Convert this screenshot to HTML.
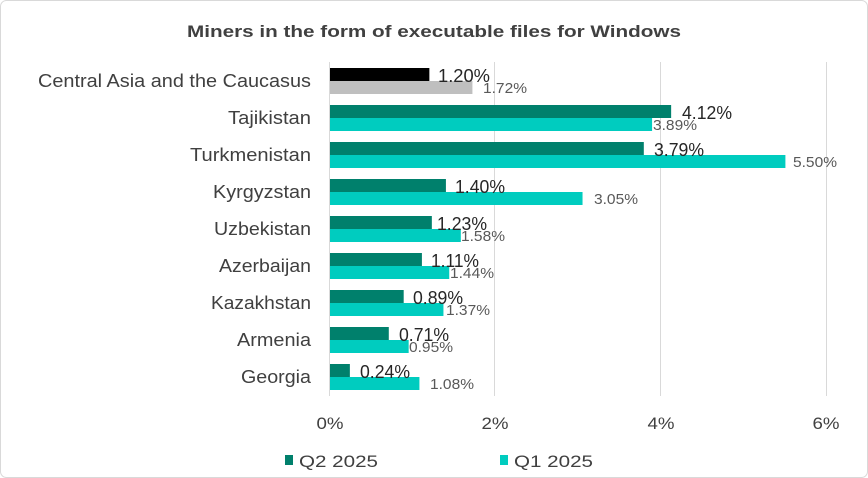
<!DOCTYPE html>
<html><head><meta charset="utf-8"><style>
html,body{margin:0;padding:0;background:#fff}
svg{display:block}
text{font-family:"Liberation Sans",sans-serif}
</style></head><body>
<svg width="868" height="478" viewBox="0 0 868 478" xmlns="http://www.w3.org/2000/svg">
<rect x="0.5" y="0.5" width="867" height="477" rx="6" fill="#fff" stroke="#d9d9d9"/>
<text x="434" y="37" text-anchor="middle" font-size="17" font-weight="bold" fill="#404040" textLength="494" lengthAdjust="spacingAndGlyphs">Miners in the form of executable files for Windows</text>
<g stroke="#d9d9d9" stroke-width="1">
<line x1="329.5" y1="62" x2="329.5" y2="396"/>
<line x1="494.5" y1="62" x2="494.5" y2="396"/>
<line x1="660.5" y1="62" x2="660.5" y2="396"/>
<line x1="826.5" y1="62" x2="826.5" y2="396"/>
</g>
<g font-size="17" fill="#404040" text-anchor="middle" lengthAdjust="spacingAndGlyphs">
<text x="330" y="429" textLength="27" lengthAdjust="spacingAndGlyphs">0%</text>
<text x="495" y="429" textLength="27" lengthAdjust="spacingAndGlyphs">2%</text>
<text x="661" y="429" textLength="27" lengthAdjust="spacingAndGlyphs">4%</text>
<text x="826" y="429" textLength="27" lengthAdjust="spacingAndGlyphs">6%</text>
</g>

<rect x="330" y="68" width="99.36" height="13" fill="#000"/>
<rect x="330" y="81" width="142.42" height="13" fill="#bfbfbf"/>
<rect x="330" y="105" width="341.14" height="13" fill="#00806c"/>
<rect x="330" y="118" width="322.09" height="13" fill="#00ccbf"/>
<rect x="330" y="142" width="313.81" height="13" fill="#00806c"/>
<rect x="330" y="155" width="455.4" height="13" fill="#00ccbf"/>
<rect x="330" y="179" width="115.92" height="13" fill="#00806c"/>
<rect x="330" y="192" width="252.54" height="13" fill="#00ccbf"/>
<rect x="330" y="216" width="101.84" height="13" fill="#00806c"/>
<rect x="330" y="229" width="130.82" height="13" fill="#00ccbf"/>
<rect x="330" y="253" width="91.91" height="13" fill="#00806c"/>
<rect x="330" y="266" width="119.23" height="13" fill="#00ccbf"/>
<rect x="330" y="290" width="73.69" height="13" fill="#00806c"/>
<rect x="330" y="303" width="113.44" height="13" fill="#00ccbf"/>
<rect x="330" y="327" width="58.79" height="13" fill="#00806c"/>
<rect x="330" y="340" width="78.66" height="13" fill="#00ccbf"/>
<rect x="330" y="364" width="19.87" height="13" fill="#00806c"/>
<rect x="330" y="377" width="89.42" height="13" fill="#00ccbf"/>

<g font-size="18" fill="#404040" text-anchor="end">
<text x="311" y="87" textLength="273" lengthAdjust="spacingAndGlyphs">Central Asia and the Caucasus</text>
<text x="311" y="124" textLength="83" lengthAdjust="spacingAndGlyphs">Tajikistan</text>
<text x="311" y="161" textLength="121" lengthAdjust="spacingAndGlyphs">Turkmenistan</text>
<text x="311" y="198" textLength="98" lengthAdjust="spacingAndGlyphs">Kyrgyzstan</text>
<text x="311" y="235" textLength="97" lengthAdjust="spacingAndGlyphs">Uzbekistan</text>
<text x="311" y="272" textLength="92" lengthAdjust="spacingAndGlyphs">Azerbaijan</text>
<text x="311" y="309" textLength="100" lengthAdjust="spacingAndGlyphs">Kazakhstan</text>
<text x="311" y="346" textLength="74" lengthAdjust="spacingAndGlyphs">Armenia</text>
<text x="311" y="383" textLength="70" lengthAdjust="spacingAndGlyphs">Georgia</text>
</g>

<g font-size="18" fill="#262626">
<text x="438" y="82" textLength="52" lengthAdjust="spacingAndGlyphs">1.20%</text>
<text x="682" y="119" textLength="50" lengthAdjust="spacingAndGlyphs">4.12%</text>
<text x="654" y="156" textLength="50" lengthAdjust="spacingAndGlyphs">3.79%</text>
<text x="455" y="193" textLength="50" lengthAdjust="spacingAndGlyphs">1.40%</text>
<text x="437" y="230" textLength="50" lengthAdjust="spacingAndGlyphs">1.23%</text>
<text x="431" y="267" textLength="48" lengthAdjust="spacingAndGlyphs">1.11%</text>
<text x="413" y="304" textLength="50" lengthAdjust="spacingAndGlyphs">0.89%</text>
<text x="399" y="341" textLength="50" lengthAdjust="spacingAndGlyphs">0.71%</text>
<text x="360" y="378" textLength="50" lengthAdjust="spacingAndGlyphs">0.24%</text>
</g>
<g font-size="15" fill="#595959">
<text x="483" y="93" textLength="44" lengthAdjust="spacingAndGlyphs">1.72%</text>
<text x="653" y="130" textLength="44" lengthAdjust="spacingAndGlyphs">3.89%</text>
<text x="793" y="167" textLength="44" lengthAdjust="spacingAndGlyphs">5.50%</text>
<text x="594" y="204" textLength="44" lengthAdjust="spacingAndGlyphs">3.05%</text>
<text x="461" y="241" textLength="44" lengthAdjust="spacingAndGlyphs">1.58%</text>
<text x="450" y="278" textLength="44" lengthAdjust="spacingAndGlyphs">1.44%</text>
<text x="446" y="315" textLength="44" lengthAdjust="spacingAndGlyphs">1.37%</text>
<text x="409" y="352" textLength="44" lengthAdjust="spacingAndGlyphs">0.95%</text>
<text x="430" y="389" textLength="44" lengthAdjust="spacingAndGlyphs">1.08%</text>
</g>

<rect x="285" y="455" width="8" height="10" fill="#00806c"/>
<text x="299" y="467" font-size="17" fill="#404040" textLength="79" lengthAdjust="spacingAndGlyphs">Q2 2025</text>
<rect x="500" y="455" width="8" height="10" fill="#00ccbf"/>
<text x="514" y="467" font-size="17" fill="#404040" textLength="79" lengthAdjust="spacingAndGlyphs">Q1 2025</text>
</svg>
</body></html>
